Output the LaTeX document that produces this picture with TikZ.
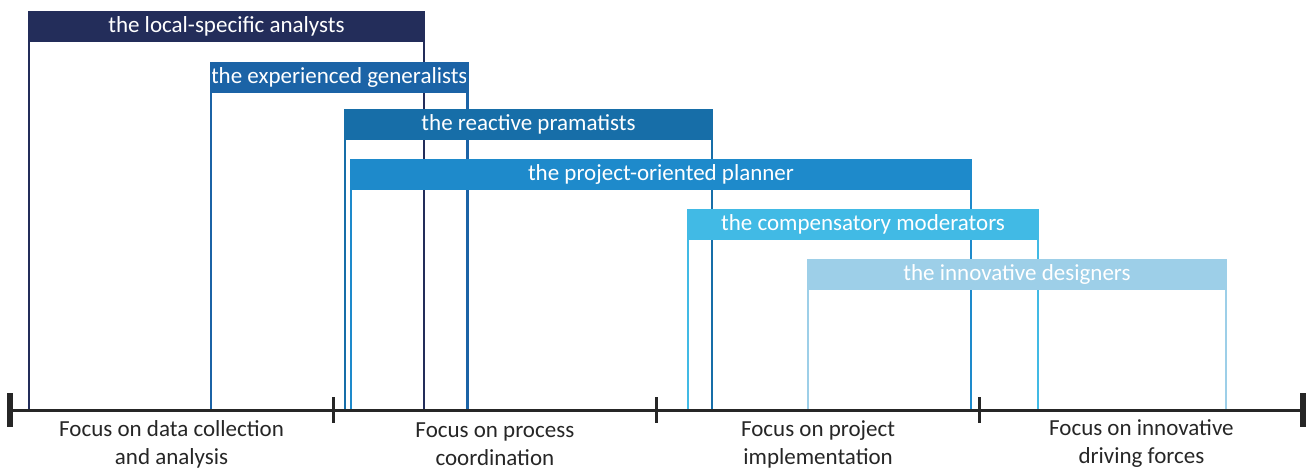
\documentclass[tikz,border=0pt]{standalone}
\usepackage{fontspec}
\setmainfont{Carlito}
\usetikzlibrary{positioning}

\definecolor{tyNavy}{HTML}{232D5A}
\definecolor{tyDeep}{HTML}{1B63A6}
\definecolor{tyStrong}{HTML}{176EA8}
\definecolor{tyMid}{HTML}{1E8ACB}
\definecolor{tySky}{HTML}{41BAE5}
\definecolor{tyPale}{HTML}{9DCFE8}
\definecolor{axisInk}{HTML}{262626}

\begin{document}
\begin{tikzpicture}
      [
        x=0.5pt, y=-0.5pt,
        font=\fontsize{11.5}{14}\selectfont,
        TypeBand/.style={draw=#1, fill=#1, line width=1.25pt, text=white, anchor=north west,
          minimum height=14.5pt, inner sep=0pt, outer sep=0pt},
        TypeLine/.style={draw=#1, line width=1.25pt},
        FocusLabel/.style={text=axisInk, align=center, inner sep=0pt},
      ]
      \useasboundingbox (0,0) rectangle (1309,468);

      % axis
      \coordinate (axL) at (10,410);
      \coordinate (axR) at (1303,410);

      % the six types
      \node [TypeBand=tyNavy, minimum width=197.5pt] (lsa) at (29,12) {the local-specific analysts};
      \draw [TypeLine=tyNavy] (lsa.north west) -- (lsa.north west |- axL);
      \draw [TypeLine=tyNavy] (lsa.north east) -- (lsa.north east |- axL);

      \node [TypeBand=tyDeep, minimum width=128pt] (eg) at (211,63) {the experienced generalists};
      \draw [TypeLine=tyDeep] (eg.north west) -- (eg.north west |- axL);
      \draw [TypeLine=tyDeep] (eg.north east) -- (eg.north east |- axL);

      \node [TypeBand=tyStrong, minimum width=183.5pt] (rp) at (345,110) {the reactive pramatists};
      \draw [TypeLine=tyStrong] (rp.north west) -- (rp.north west |- axL);
      \draw [TypeLine=tyStrong] (rp.north east) -- (rp.north east |- axL);

      \node [TypeBand=tyMid, minimum width=310pt] (pop) at (351,160) {the project-oriented planner};
      \draw [TypeLine=tyMid] (pop.north west) -- (pop.north west |- axL);
      \draw [TypeLine=tyMid] (pop.north east) -- (pop.north east |- axL);

      \node [TypeBand=tySky, minimum width=175pt] (cm) at (688,210) {the compensatory moderators};
      \draw [TypeLine=tySky] (cm.north west) -- (cm.north west |- axL);
      \draw [TypeLine=tySky] (cm.north east) -- (cm.north east |- axL);

      \node [TypeBand=tyPale, minimum width=209pt] (id) at (808,260) {the innovative designers};
      \draw [TypeLine=tyPale] (id.north west) -- (id.north west |- axL);
      \draw [TypeLine=tyPale] (id.north east) -- (id.north east |- axL);

      % axis with ticks
      \draw [axisInk, line width=1.5pt] (axL) -- (axR);
      \draw [axisInk, line width=3pt] (10,393) -- (10,427);
      \draw [axisInk, line width=3pt] (1303,393) -- (1303,427);
      \foreach \tx in {333.25, 656.5, 979.75}
        \draw [axisInk, line width=1.5pt] (\tx,397) -- (\tx,423);

      \node [FocusLabel] (f1) at (171.6,444) {Focus on data collection\\and analysis};
      \node [FocusLabel] (f2) at (494.9,444) {Focus on process\\coordination};
      \node [FocusLabel] (f3) at (818.1,444) {Focus on project\\implementation};
      \node [FocusLabel] (f4) at (1141.4,444) {Focus on innovative\\driving forces};
    \end{tikzpicture}
\end{document}
